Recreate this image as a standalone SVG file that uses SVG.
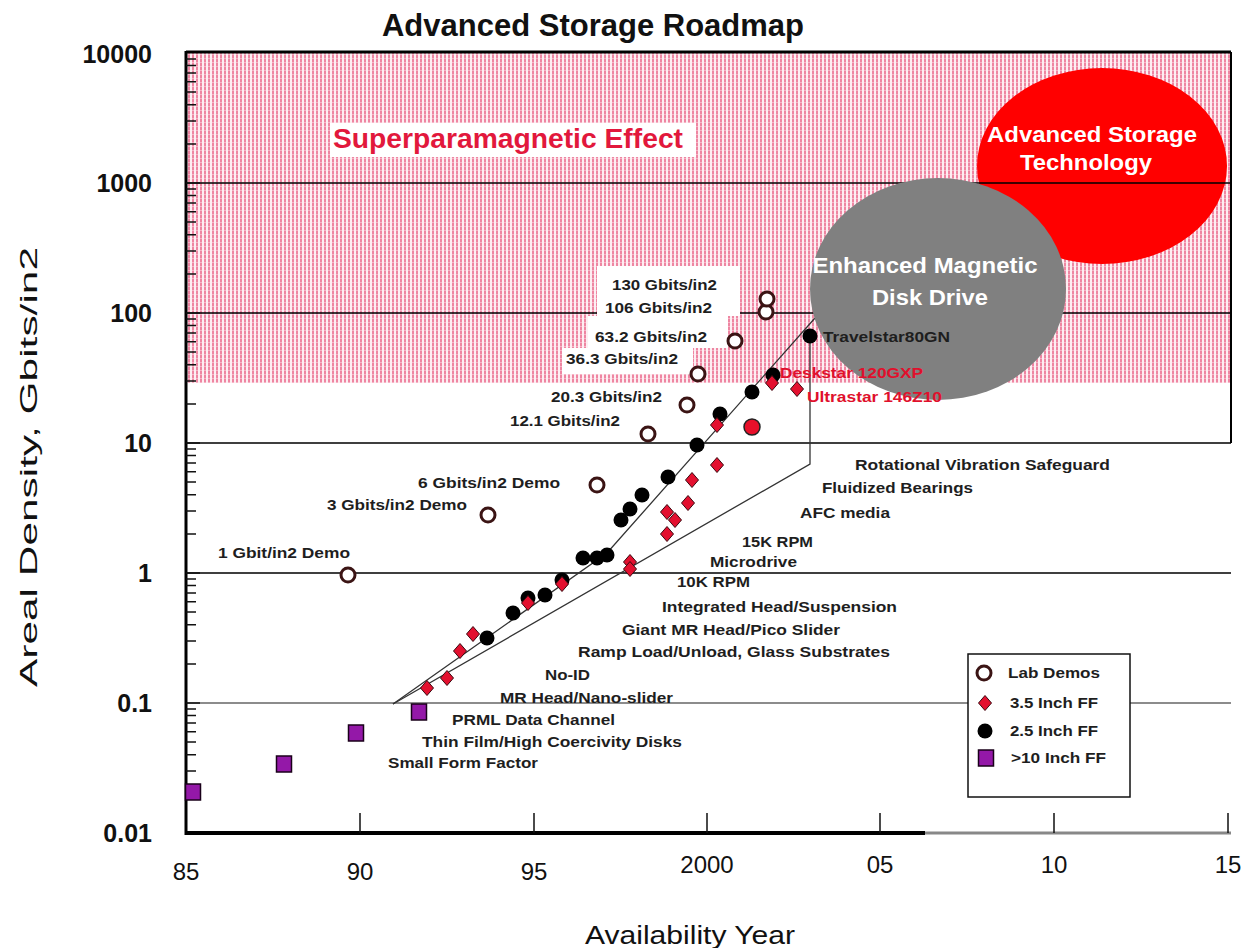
<svg xmlns="http://www.w3.org/2000/svg" width="1248" height="948" viewBox="0 0 1248 948">
<defs>
<pattern id="hatch" width="4" height="4" patternUnits="userSpaceOnUse">
<rect width="4" height="4" fill="#fdeef2"/>
<rect x="0" y="0" width="2" height="4" fill="#ee86a2"/>
<rect x="0" y="2" width="2" height="1" fill="#f7b3c5"/>
</pattern>
<path id="dia" d="M0,-7.5 L6.5,0 L0,7.5 L-6.5,0 Z" fill="#e3102f" stroke="#3a0a10" stroke-width="1"/>
<circle id="demo" r="7" fill="#fff" stroke="#3b1414" stroke-width="3"/>
<circle id="dot" r="7.5" fill="#000"/>
<rect id="sq" x="-7.5" y="-8" width="15" height="16" fill="#9418a8" stroke="#1a001a" stroke-width="1.5"/>
</defs>
<style>
text{font-family:"Liberation Sans",Arial,sans-serif}
.lbl{font-size:15px;font-weight:bold;fill:#1e1e1e}
.rl{font-size:15px;font-weight:bold;fill:#e0102c}
.yt{font-size:25px;font-weight:bold;fill:#111;text-anchor:end}
.xt{font-size:24px;fill:#111;text-anchor:middle}
.big{font-size:22px;font-weight:bold;fill:#fff;text-anchor:middle}
.grid{stroke:#000;stroke-width:1.6;fill:none}
.trend{stroke:#333;stroke-width:1.3;fill:none}
</style>
<rect width="1248" height="948" fill="#fff"/>

<g id="zone">
<rect x="186" y="52" width="1045" height="331" fill="url(#hatch)"/>
<ellipse id="ast" cx="1102" cy="166" rx="125" ry="98" fill="#ff0000"/>
</g>

<g id="grid">
<path class="grid" d="M186 183H1231M186 313H1231M186 443H1231M186 573H1231"/>
<path d="M186 703H1231" stroke="#8c8c8c" stroke-width="2"/>
<path d="M186 52H1231" stroke="#000" stroke-width="3"/>
<path d="M1231 52V443" stroke="#000" stroke-width="2"/>
</g>

<g id="boxes" fill="#fff">
<rect x="330" y="123" width="366" height="34"/>
<rect x="597" y="266" width="143" height="50"/>
<rect x="588" y="316" width="140" height="32"/>
<rect x="562" y="348" width="131" height="26"/>
</g>

<g id="connectors">
<polyline class="trend" points="393,704 607,553 815,318"/>
<polyline class="trend" points="393,704 810,464 810,336"/>
</g>

<g id="emdd">
<ellipse cx="938" cy="289" rx="128" ry="111" fill="#808080"/>
<text class="big" x="925" y="273" textLength="225" lengthAdjust="spacingAndGlyphs">Enhanced Magnetic</text>
<text class="big" x="930" y="305" textLength="116" lengthAdjust="spacingAndGlyphs">Disk Drive</text>
</g>
<g id="ast-label">
<text class="big" x="1092" y="142" textLength="210" lengthAdjust="spacingAndGlyphs">Advanced Storage</text>
<text class="big" x="1086" y="170" textLength="132" lengthAdjust="spacingAndGlyphs">Technology</text>
</g>

<g id="axes">
<path d="M186 51V835" stroke="#000" stroke-width="3"/>
<path d="M185 833H925" stroke="#000" stroke-width="4"/>
<path d="M925 833H1231" stroke="#888" stroke-width="3"/>
<path d="M360 813V833M534 813V833M707 813V833M880 813V833M1054 813V833M1228 813V833" stroke="#111" stroke-width="1.5"/>
<path stroke="#111" stroke-width="1.5" d="M186 793.9h10M186 771h10M186 754.7h10M186 742.1h10M186 731.8h10M186 723.1h10M186 715.6h10M186 708.9h10M186 703h14M186 663.9h10M186 641h10M186 624.7h10M186 612.1h10M186 601.8h10M186 593.1h10M186 585.6h10M186 578.9h10M186 573h14M186 533.9h10M186 511h10M186 494.7h10M186 482.1h10M186 471.8h10M186 463.1h10M186 455.6h10M186 448.9h10M186 443h14M186 403.9h10M186 381h10M186 364.7h10M186 352.1h10M186 341.8h10M186 333.1h10M186 325.6h10M186 318.9h10M186 313h14M186 273.9h10M186 251h10M186 234.7h10M186 222.1h10M186 211.8h10M186 203.1h10M186 195.6h10M186 188.9h10M186 183h14M186 143.9h10M186 121h10M186 104.7h10M186 92.1h10M186 81.8h10M186 73.1h10M186 65.6h10M186 58.9h10"/>
<text class="yt" x="152" y="63">10000</text>
<text class="yt" x="152" y="192">1000</text>
<text class="yt" x="152" y="322">100</text>
<text class="yt" x="152" y="452">10</text>
<text class="yt" x="152" y="582">1</text>
<text class="yt" x="152" y="712">0.1</text>
<text class="yt" x="152" y="842">0.01</text>
<text class="xt" x="186" y="880">85</text>
<text class="xt" x="360" y="880">90</text>
<text class="xt" x="534" y="880">95</text>
<text class="xt" x="707" y="873">2000</text>
<text class="xt" x="880" y="873">05</text>
<text class="xt" x="1054" y="873">10</text>
<text class="xt" x="1228" y="873">15</text>
<text x="690" y="944" font-size="26" fill="#111" text-anchor="middle" textLength="210" lengthAdjust="spacingAndGlyphs">Availability Year</text>
<text transform="translate(37,467) rotate(-90)" font-size="24" fill="#111" text-anchor="middle" textLength="440" lengthAdjust="spacingAndGlyphs">Areal Density, Gbits/in2</text>
</g>

<text x="593" y="36" font-size="31" font-weight="bold" fill="#111" text-anchor="middle">Advanced Storage Roadmap</text>
<text x="333" y="148" font-size="27" font-weight="bold" fill="#e2183c" textLength="350" lengthAdjust="spacingAndGlyphs">Superparamagnetic Effect</text>

<g id="lab-demos">
<use href="#demo" x="348" y="575"/>
<use href="#demo" x="488" y="515"/>
<use href="#demo" x="597" y="485"/>
<use href="#demo" x="648" y="434"/>
<use href="#demo" x="687" y="405"/>
<use href="#demo" x="698" y="374"/>
<use href="#demo" x="735" y="341"/>
<use href="#demo" x="766" y="312"/>
<use href="#demo" x="767" y="299"/>
<text class="lbl" x="218" y="558" textLength="132" lengthAdjust="spacingAndGlyphs">1 Gbit/in2 Demo</text>
<text class="lbl" x="327" y="510" textLength="140" lengthAdjust="spacingAndGlyphs">3 Gbits/in2 Demo</text>
<text class="lbl" x="418" y="488" textLength="142" lengthAdjust="spacingAndGlyphs">6 Gbits/in2 Demo</text>
<text class="lbl" x="510" y="426" textLength="110" lengthAdjust="spacingAndGlyphs">12.1 Gbits/in2</text>
<text class="lbl" x="551" y="402" textLength="111" lengthAdjust="spacingAndGlyphs">20.3 Gbits/in2</text>
<text class="lbl" x="566" y="364" textLength="112" lengthAdjust="spacingAndGlyphs">36.3 Gbits/in2</text>
<text class="lbl" x="595" y="342" textLength="112" lengthAdjust="spacingAndGlyphs">63.2 Gbits/in2</text>
<text class="lbl" x="605" y="313" textLength="107" lengthAdjust="spacingAndGlyphs">106 Gbits/in2</text>
<text class="lbl" x="612" y="290" textLength="105" lengthAdjust="spacingAndGlyphs">130 Gbits/in2</text>
</g>

<g id="ff-35">
<use href="#dia" x="427" y="688"/>
<use href="#dia" x="447" y="678"/>
<use href="#dia" x="460" y="651"/>
<use href="#dia" x="473" y="634"/>
<use href="#dot" x="487" y="638"/>
<use href="#dot" x="513" y="613"/>
<use href="#dot" x="528" y="598"/>
<use href="#dia" x="528" y="603"/>
<use href="#dot" x="545" y="595"/>
<use href="#dot" x="562" y="580"/>
<use href="#dia" x="562" y="584"/>
<use href="#dia" x="630" y="562"/>
<use href="#dia" x="630" y="569"/>
<use href="#dia" x="667" y="534"/>
<use href="#dia" x="675" y="520"/>
<use href="#dia" x="667" y="512"/>
<use href="#dia" x="688" y="503"/>
<use href="#dia" x="692" y="480"/>
<use href="#dia" x="717" y="465"/>
<circle cx="752" cy="427" r="8" fill="#e8102a" stroke="#222" stroke-width="1.5"/>
<use href="#dia" x="797" y="389"/>
</g>

<g id="ff-25">
<use href="#dot" x="583" y="558"/>
<use href="#dot" x="597" y="558"/>
<use href="#dot" x="607" y="555"/>
<use href="#dot" x="621" y="520"/>
<use href="#dot" x="630" y="509"/>
<use href="#dot" x="642" y="495"/>
<use href="#dot" x="668" y="477"/>
<use href="#dot" x="697" y="445"/>
<use href="#dot" x="720" y="414"/>
<use href="#dia" x="717" y="425"/>
<use href="#dot" x="752" y="392"/>
<use href="#dot" x="773" y="375"/>
<use href="#dia" x="772" y="383"/>
<use href="#dot" x="810" y="336"/>
</g>

<g id="ff-10">
<use href="#sq" x="193" y="792"/>
<use href="#sq" x="284" y="764"/>
<use href="#sq" x="356" y="733"/>
<use href="#sq" x="419" y="712"/>
</g>

<g id="products">
<text class="lbl" x="823" y="342" textLength="127" lengthAdjust="spacingAndGlyphs">Travelstar80GN</text>
<text class="rl" x="780" y="378" textLength="143" lengthAdjust="spacingAndGlyphs">Deskstar 120GXP</text>
<text class="rl" x="807" y="402" textLength="135" lengthAdjust="spacingAndGlyphs">Ultrastar 146Z10</text>
</g>

<g id="technologies">
<text class="lbl" x="855" y="470" textLength="255" lengthAdjust="spacingAndGlyphs">Rotational Vibration Safeguard</text>
<text class="lbl" x="822" y="493" textLength="151" lengthAdjust="spacingAndGlyphs">Fluidized Bearings</text>
<text class="lbl" x="800" y="518" textLength="90" lengthAdjust="spacingAndGlyphs">AFC media</text>
<text class="lbl" x="742" y="547" textLength="71" lengthAdjust="spacingAndGlyphs">15K RPM</text>
<text class="lbl" x="710" y="567" textLength="87" lengthAdjust="spacingAndGlyphs">Microdrive</text>
<text class="lbl" x="677" y="587" textLength="73" lengthAdjust="spacingAndGlyphs">10K RPM</text>
<text class="lbl" x="662" y="612" textLength="235" lengthAdjust="spacingAndGlyphs">Integrated Head/Suspension</text>
<text class="lbl" x="622" y="635" textLength="218" lengthAdjust="spacingAndGlyphs">Giant MR Head/Pico Slider</text>
<text class="lbl" x="578" y="657" textLength="312" lengthAdjust="spacingAndGlyphs">Ramp Load/Unload, Glass Substrates</text>
<text class="lbl" x="545" y="680" textLength="45" lengthAdjust="spacingAndGlyphs">No-ID</text>
<text class="lbl" x="500" y="703" textLength="173" lengthAdjust="spacingAndGlyphs">MR Head/Nano-slider</text>
<text class="lbl" x="452" y="725" textLength="163" lengthAdjust="spacingAndGlyphs">PRML Data Channel</text>
<text class="lbl" x="422" y="747" textLength="260" lengthAdjust="spacingAndGlyphs">Thin Film/High Coercivity Disks</text>
<text class="lbl" x="388" y="768" textLength="150" lengthAdjust="spacingAndGlyphs">Small Form Factor</text>
</g>

<g id="legend">
<rect x="968" y="654" width="162" height="143" fill="#fff" stroke="#111" stroke-width="1.5"/>
<use href="#demo" x="984" y="673"/>
<use href="#dia" x="985" y="703"/>
<use href="#dot" x="985" y="731"/>
<use href="#sq" x="986" y="758"/>
<text class="lbl" x="1008" y="678" textLength="92" lengthAdjust="spacingAndGlyphs">Lab Demos</text>
<text class="lbl" x="1010" y="708" textLength="88" lengthAdjust="spacingAndGlyphs">3.5 Inch FF</text>
<text class="lbl" x="1010" y="736" textLength="88" lengthAdjust="spacingAndGlyphs">2.5 Inch FF</text>
<text class="lbl" x="1011" y="763" textLength="95" lengthAdjust="spacingAndGlyphs">&gt;10 Inch FF</text>
</g>
</svg>
